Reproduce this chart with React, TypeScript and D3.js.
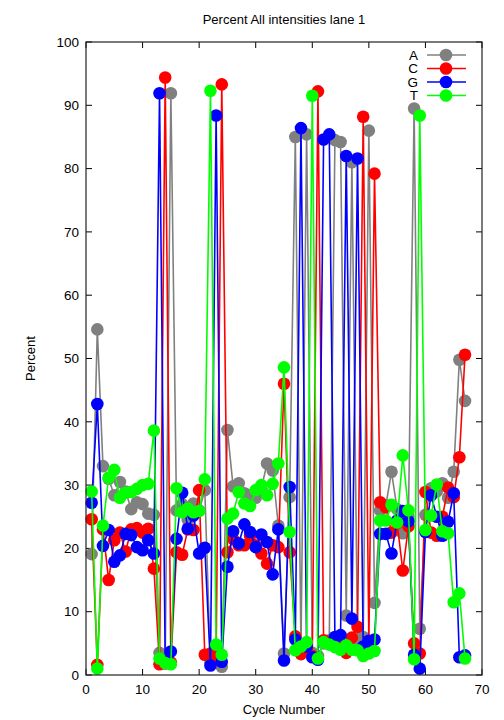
import React from "react";
import * as d3 from "d3";

// percent per cycle (cycle = index + 1)
const pctA = [19.1, 54.6, 33.0, 31.0, 28.4, 30.5, 29.0, 26.2, 27.3, 27.0, 25.5, 25.3, 3.5, 1.8, 91.9, 26.0, 27.0, 24.5, 27.1, 26.0, 29.2, 2.0, 3.5, 1.3, 38.7, 29.8, 30.3, 28.7, 28.4, 28.0, 29.5, 33.4, 32.3, 23.6, 3.4, 28.1, 85.0, 4.0, 85.4, 3.5, 3.0, 5.0, 5.5, 84.5, 84.2, 9.4, 81.0, 5.0, 6.0, 86.0, 11.4, 26.0, 26.8, 32.1, 26.2, 22.4, 25.0, 89.5, 7.3, 25.3, 29.5, 29.0, 30.3, 28.0, 32.1, 49.8, 43.3];
const pctC = [24.6, 1.6, 23.0, 15.0, 21.3, 22.5, 19.5, 23.0, 23.2, 22.5, 23.1, 16.8, 1.7, 94.4, 2.0, 19.4, 19.0, 23.0, 22.9, 29.2, 3.2, 3.4, 3.0, 93.3, 19.4, 21.5, 20.5, 20.5, 22.0, 20.5, 19.2, 17.6, 20.5, 20.2, 46.0, 19.4, 6.1, 3.3, 4.0, 3.0, 92.2, 5.5, 5.0, 5.5, 5.0, 3.5, 5.9, 7.6, 88.2, 5.0, 79.2, 27.3, 26.5, 22.5, 24.0, 16.5, 23.5, 5.0, 3.4, 28.9, 22.5, 22.0, 25.0, 29.6, 28.1, 34.4, 50.6];
const pctG = [27.2, 42.8, 20.4, 22.9, 17.9, 18.9, 22.3, 22.1, 20.2, 19.7, 21.3, 19.2, 91.9, 2.2, 3.7, 21.5, 28.8, 23.1, 25.2, 19.2, 20.1, 1.5, 88.4, 2.1, 17.1, 22.7, 20.8, 23.8, 22.6, 20.2, 22.2, 21.0, 15.9, 23.0, 2.3, 29.7, 5.6, 86.4, 4.5, 2.8, 2.4, 84.6, 85.4, 6.0, 6.3, 82.0, 8.9, 81.6, 4.5, 5.4, 5.6, 22.3, 22.3, 19.2, 24.4, 25.9, 24.3, 3.2, 1.0, 22.6, 28.4, 25.0, 22.0, 24.2, 28.7, 2.8, 3.1];
const pctT = [29.0, 1.0, 23.6, 31.2, 32.4, 28.0, 28.8, 28.9, 29.4, 30.0, 30.2, 38.6, 2.6, 1.9, 1.7, 29.5, 25.7, 26.3, 25.7, 25.9, 30.9, 92.3, 4.8, 3.2, 24.7, 25.5, 28.9, 27.1, 26.7, 29.2, 30.0, 28.4, 30.2, 33.4, 48.6, 22.6, 3.9, 4.5, 5.2, 91.5, 2.6, 5.2, 4.8, 4.4, 4.0, 4.7, 4.0, 3.9, 3.0, 3.4, 3.8, 24.4, 24.4, 26.9, 24.1, 34.7, 26.0, 2.5, 88.4, 22.9, 25.2, 30.1, 22.7, 22.4, 11.5, 12.9, 2.6];

const bases = ["A", "C", "G", "T"];
const colors = ["#808080", "#ff0000", "#0000ff", "#00ff00"];
const series = [pctA, pctC, pctG, pctT];

const width = 504;
const height = 720;
const margin = { top: 42, right: 22, bottom: 45, left: 86 };
const font = "'Liberation Sans', Arial, sans-serif";

export default function App() {
  const x = d3.scaleLinear().domain([0, 70]).range([margin.left, width - margin.right]);
  const y = d3.scaleLinear().domain([0, 100]).range([height - margin.bottom, margin.top]);
  const line = d3.line<number>().x((d, i) => x(i + 1)).y(d => y(d));
  const tick = 6;

  return (
    <svg width={width} height={height} style={{ position: "absolute", left: 0, top: 0, background: "#fff" }} fontFamily={font}>
      <text x={(x(0) + x(70)) / 2} y={24} textAnchor="middle" fontSize={13}>Percent All intensities lane 1</text>

      {y.ticks(10).map(t => (
        <g key={"y" + t}>
          <line x1={x(0)} x2={x(0) + tick} y1={y(t)} y2={y(t)} stroke="#000" />
          <line x1={x(70)} x2={x(70) - tick} y1={y(t)} y2={y(t)} stroke="#000" />
          <text x={x(0) - 7} y={y(t)} dy="0.35em" textAnchor="end" fontSize={13.5}>{t}</text>
        </g>
      ))}
      {x.ticks(7).map(t => (
        <g key={"x" + t}>
          <line x1={x(t)} x2={x(t)} y1={y(0)} y2={y(0) - tick} stroke="#000" />
          <line x1={x(t)} x2={x(t)} y1={y(100)} y2={y(100) + tick} stroke="#000" />
          <text x={x(t)} y={y(0) + 19} textAnchor="middle" fontSize={13.5}>{t}</text>
        </g>
      ))}

      <text x={(x(0) + x(70)) / 2} y={714} textAnchor="middle" fontSize={13}>Cycle Number</text>
      <text transform={`translate(35,${(y(0) + y(100)) / 2}) rotate(-90)`} textAnchor="middle" fontSize={13}>Percent</text>

      {series.map((s, k) => (
        <g key={bases[k]}>
          <path d={line(s) ?? ""} fill="none" stroke={colors[k]} strokeWidth={1.6} />
          {s.map((v, i) => (
            <circle key={i} cx={x(i + 1)} cy={y(v)} r={6.3} fill={colors[k]} />
          ))}
        </g>
      ))}

      {bases.map((b, k) => {
        const ly = 55 + k * 13.5;
        return (
          <g key={"leg" + b}>
            <text x={418} y={ly} dy="0.35em" textAnchor="end" fontSize={13.5}>{b}</text>
            <line x1={427} x2={466} y1={ly} y2={ly} stroke={colors[k]} strokeWidth={1.6} />
            <circle cx={446} cy={ly} r={6.3} fill={colors[k]} />
          </g>
        );
      })}

      <rect x={x(0)} y={y(100)} width={x(70) - x(0)} height={y(0) - y(100)} fill="none" stroke="#222" strokeWidth={1.2} />
    </svg>
  );
}
